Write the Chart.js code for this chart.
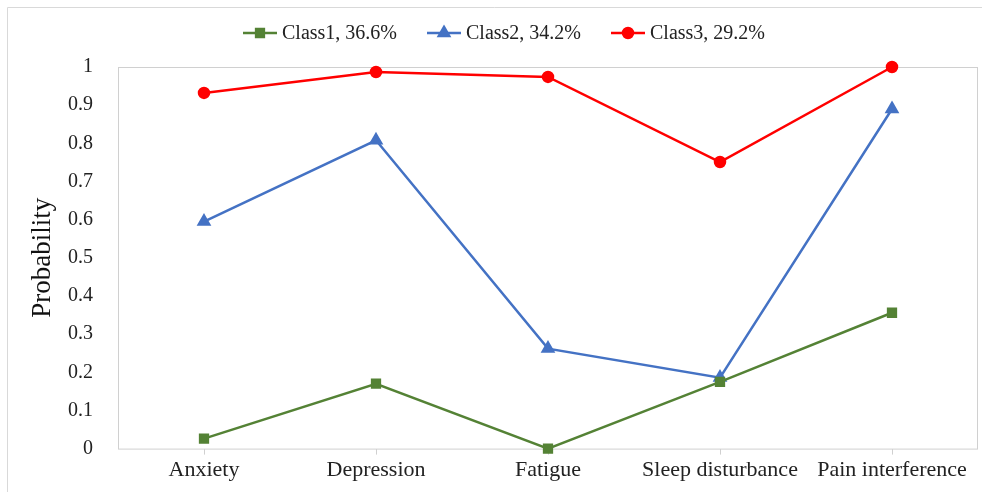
<!DOCTYPE html>
<html>
<head>
<meta charset="utf-8">
<script src="https://cdn.jsdelivr.net/npm/chart.js@4/dist/chart.umd.min.js"></script>
<style>
  html, body { margin: 0; padding: 0; background: #fff; overflow: hidden; }
  #wrap { width: 982px; height: 492px; }
</style>
</head>
<body>
<div id="wrap"><canvas id="chart"></canvas></div>
<script>
const categories = ['Anxiety', 'Depression', 'Fatigue', 'Sleep disturbance', 'Pain interference'];
const class1 = [0.026, 0.17, 0.0, 0.175, 0.356];
const class2 = [0.595, 0.808, 0.262, 0.186, 0.89];
const class3 = [0.932, 0.987, 0.974, 0.751, 1.0];
const seriesLabels = ['Class1, 36.6%', 'Class2, 34.2%', 'Class3, 29.2%'];
const yTicks = [0, 0.1, 0.2, 0.3, 0.4, 0.5, 0.6, 0.7, 0.8, 0.9, 1];

const serif = '"Liberation Serif", "Times New Roman", serif';

// frame, plot box and the line+marker legend
const decor = {
    id: 'decor',
    beforeDraw(chart) {
        const ctx = chart.ctx;
        ctx.save();
        ctx.strokeStyle = '#d9d9d9';
        ctx.lineWidth = 1;
        ctx.beginPath();
        ctx.moveTo(7.5, 492);
        ctx.lineTo(7.5, 7.5);
        ctx.lineTo(982, 7.5);
        ctx.stroke();
        const a = chart.chartArea;
        ctx.strokeStyle = '#d0d0d0';
        ctx.strokeRect(a.left + 0.5, a.top + 0.5, a.right - a.left - 1, a.bottom - a.top);
        ctx.restore();
    },
    afterDraw(chart) {
        const ctx = chart.ctx;
        ctx.save();
        ctx.font = '20px ' + serif;
        ctx.textBaseline = 'middle';
        const lineLen = 34, gap = 5, spacing = 30;
        const widths = chart.data.datasets.map(d => ctx.measureText(d.label).width);
        const total = widths.reduce((s, w) => s + lineLen + gap + w, 0) + spacing * (widths.length - 1);
        let x = 504 - total / 2;
        const y = 33;
        chart.data.datasets.forEach((d, i) => {
            ctx.strokeStyle = d.borderColor;
            ctx.lineWidth = 2.5;
            ctx.beginPath();
            ctx.moveTo(x, y);
            ctx.lineTo(x + lineLen, y);
            ctx.stroke();
            ctx.fillStyle = d.borderColor;
            Chart.helpers.drawPoint(ctx, {pointStyle: d.pointStyle, radius: d.pointRadius, borderWidth: 1}, x + lineLen / 2, y);
            ctx.fill();
            ctx.fillStyle = '#222';
            ctx.textAlign = 'left';
            ctx.fillText(d.label, x + lineLen + gap, y + 1);
            x += lineLen + gap + widths[i] + spacing;
        });
        ctx.restore();
    }
};

const chart = new Chart(document.getElementById('chart'), {
    type: 'line',
    data: {
        labels: categories,
        datasets: [
            { label: seriesLabels[0], data: class1, borderColor: '#548235', backgroundColor: '#548235',
              pointStyle: 'rect', pointRadius: 5.5, borderWidth: 2.5 },
            { label: seriesLabels[1], data: class2, borderColor: '#4472c4', backgroundColor: '#4472c4',
              pointStyle: 'triangle', pointRadius: 6, borderWidth: 2.5 },
            { label: seriesLabels[2], data: class3, borderColor: '#ff0000', backgroundColor: '#ff0000',
              pointStyle: 'circle', pointRadius: 5, borderWidth: 2.5 }
        ]
    },
    options: {
        responsive: true,
        maintainAspectRatio: false,
        animation: false,
        clip: false,
        layout: { autoPadding: false, padding: { top: 67, right: 4, bottom: 7, left: 16 } },
        plugins: {
            legend: { display: false },
            tooltip: { enabled: false }
        },
        elements: { line: { tension: 0 }, point: { borderWidth: 1 } },
        scales: {
            x: {
                offset: true,
                afterFit: axis => { axis.paddingLeft = 0; axis.paddingRight = 0; },
                grid: { offset: false, drawOnChartArea: false, drawTicks: true, tickLength: 6, color: '#d0d0d0' },
                border: { display: false },
                ticks: { color: '#222', font: { family: serif, size: 22 }, padding: 2, maxRotation: 0, autoSkip: false }
            },
            y: {
                min: 0,
                max: 1,
                afterBuildTicks: axis => { axis.ticks = yTicks.map(v => ({ value: v })); },
                afterFit: axis => { axis.width = 102; },
                grid: { display: false },
                border: { display: false },
                ticks: { color: '#222', font: { family: serif, size: 20 }, padding: 17,
                         callback: v => String(Math.round(v * 10) / 10) },
                title: { display: true, text: 'Probability', color: '#111', font: { family: serif, size: 27 }, padding: { top: 11, bottom: 0 } }
            }
        }
    },
    plugins: [decor]
});
</script>
</body>
</html>
